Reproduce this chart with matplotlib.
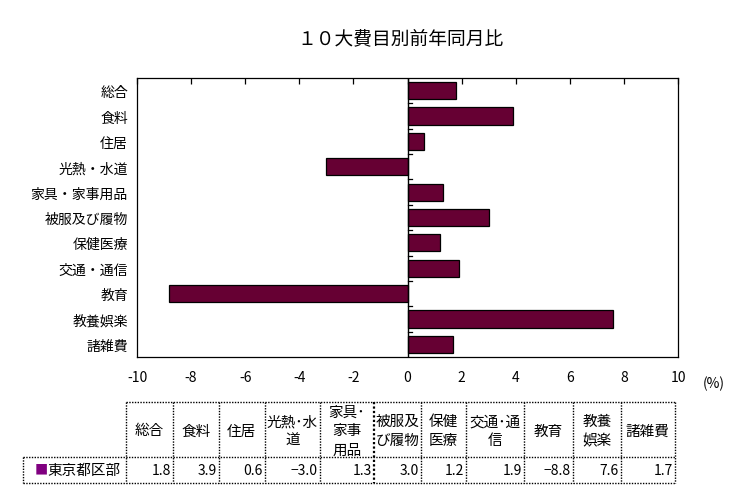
import numpy as np
import matplotlib
matplotlib.use("Agg")
import matplotlib.pyplot as plt

plt.rcParams["font.family"] = ["Noto Sans CJK JP", "DejaVu Sans"]
plt.rcParams["axes.unicode_minus"] = False

# --- data ---
categories = ["総合", "食料", "住居", "光熱・水道", "家具・家事用品", "被服及び履物",
              "保健医療", "交通・通信", "教育", "教養娯楽", "諸雑費"]
table_heads = ["総合", "食料", "住居", "光熱･水\n道", "家具･\n家事\n用品", "被服及\nび履物",
               "保健\n医療", "交通･通\n信", "教育", "教養\n娯楽", "諸雑費"]
values = [1.8, 3.9, 0.6, -3.0, 1.3, 3.0, 1.2, 1.9, -8.8, 7.6, 1.7]
series_name = "東京都区部"
xticks = [-10, -8, -6, -4, -2, 0, 2, 4, 6, 8, 10]

BAR = "#660033"
MARK = "#800080"
W, H = 748, 502

fig = plt.figure(figsize=(W / 100, H / 100), dpi=100)
ax = fig.add_axes([137 / W, 1 - 358 / H, 541 / W, 279 / H])

y = np.arange(len(categories))
ax.barh(y, values, height=0.68, color=BAR, edgecolor="black", linewidth=0.9, zorder=3)
ax.axvline(0, color="black", lw=1, zorder=4)
# small ticks on zero line between categories
for b in y[:-1] + 0.5:
    ax.plot([0, 0.15], [b, b], color="black", lw=0.9, zorder=2)

ax.set_xlim(-10, 10)
ax.set_ylim(len(categories) - 0.5, -0.5)
ax.set_xticks(xticks)
ax.set_xticklabels([str(t) for t in xticks], fontsize=10)
ax.tick_params(axis="x", top=True, bottom=False, direction="in", length=4, width=0.9, pad=9)
ax.set_yticks(y)
ax.set_yticklabels(categories, fontsize=10)
ax.tick_params(axis="y", left=False, pad=3)
for s in ax.spines.values():
    s.set_linewidth(0.9)

fig.text(401 / W, 1 - 39 / H, "１０大費目別前年同月比", ha="center", va="center", fontsize=13.5)
fig.text(714 / W, 1 - 384 / H, "(%)", ha="center", va="center", fontsize=10)

# --- data table under the chart (pixel overlay) ---
ov = fig.add_axes([0, 0, 1, 1])
ov.set_xlim(0, W)
ov.set_ylim(H, 0)
ov.axis("off")
ov.patch.set_alpha(0)

cols = [126.5, 172.8, 218.7, 264.7, 320, 374, 420.8, 466, 524.5, 573, 620.7, 674.6]
top, mid, bot = 403, 458, 484
lab_left = 22.7
dot = dict(color="black", lw=1, ls=(0, (1, 1)))

ov.plot([cols[0], cols[-1]], [top, top], **dot)
ov.plot([lab_left, cols[-1]], [mid, mid], **dot)
ov.plot([lab_left, cols[-1]], [bot, bot], **dot)
ov.plot([lab_left, lab_left], [mid, bot], **dot)
for i, c in enumerate(cols):
    ov.plot([c, c], [top, bot], **dict(dot, lw=1.6 if i == 5 else 1))

for i, (head, v) in enumerate(zip(table_heads, values)):
    cx = (cols[i] + cols[i + 1]) / 2
    ov.text(cx, (top + mid) / 2 + 1, head, ha="center", va="center", fontsize=10.5, linespacing=1.45)
    ov.text(cols[i + 1] - 2, (mid + bot) / 2, f"{v:.1f}".replace("-", "−"),
            ha="right", va="center", fontsize=10)

ov.text(35, (mid + bot) / 2, "■", ha="left", va="center", fontsize=9.5, color=MARK)
ov.text(47, (mid + bot) / 2, series_name, ha="left", va="center", fontsize=10.5)

fig.savefig("out.png", dpi=100)
